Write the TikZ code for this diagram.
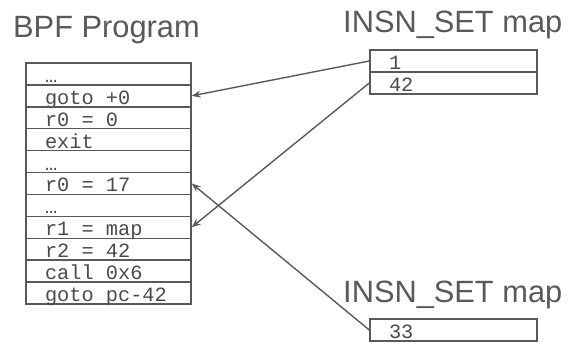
\documentclass[tikz,border=0pt]{standalone}
\usepackage{fontspec}
\setmainfont{Liberation Sans}
\newfontfamily\codefont{Liberation Mono}
\newcommand\gap{\hspace*{0.6em}}
\usetikzlibrary{arrows.meta}
\definecolor{linegray}{HTML}{595959}
\definecolor{codegray}{HTML}{4a4a4a}
\begin{document}
\begin{tikzpicture}[x=1pt,y=-1pt]
			\tikzset{row/.style={rectangle, draw=linegray, line width=1.4pt, inner xsep=19pt, inner ysep=0pt,
				text width=127pt, align=left, minimum height=21.9pt, text height=19.4pt, text depth=2.5pt,
				text=codegray, font=\codefont\fontsize{20.3}{21}\selectfont}};
			\tikzset{maprow/.style={row, text width=129pt, minimum height=22pt, text height=19.5pt}};
			\tikzset{title/.style={anchor=base west, inner sep=0pt, text=linegray, font=\fontsize{30.8}{32}\selectfont}};
			\tikzset{ptr/.style={draw=linegray, line width=1.4pt, -{Stealth[length=9pt,width=7pt]}}};
			\useasboundingbox (0,0) rectangle (572,343);

			\node[title] (prog) at (13,37) {BPF Program};
			\node[title] (set1) at (343,32) {INSN\_SET map};
			\node[title] (set2) at (343,302) {INSN\_SET map};

			\node[row] (p1) at (108.5,73.95) {…};
			\node[row] (p2) at (108.5,95.85) {goto\gap+0};
			\node[row] (p3) at (108.5,117.75) {r0\gap=\gap0};
			\node[row] (p4) at (108.5,139.65) {exit};
			\node[row] (p5) at (108.5,161.55) {…};
			\node[row] (p6) at (108.5,183.45) {r0\gap=\gap17};
			\node[row] (p7) at (108.5,205.35) {…};
			\node[row] (p8) at (108.5,227.25) {r1\gap=\gap map};
			\node[row] (p9) at (108.5,249.15) {r2\gap=\gap42};
			\node[row] (p10) at (108.5,271.05) {call\gap0x6};
			\node[row] (p11) at (108.5,292.95) {goto\gap pc-42};

			\node[maprow] (m1) at (453.5,61) {1};
			\node[maprow] (m2) at (453.5,83) {42};
			\node[maprow] (n1) at (453.5,330) {33};

			\draw[ptr] (m1.west) -- (p2.east);
			\draw[ptr] (m2.west) -- (p8.east);
			\draw[ptr] (n1.west) -- (p6.east);
		\end{tikzpicture}
\end{document}
